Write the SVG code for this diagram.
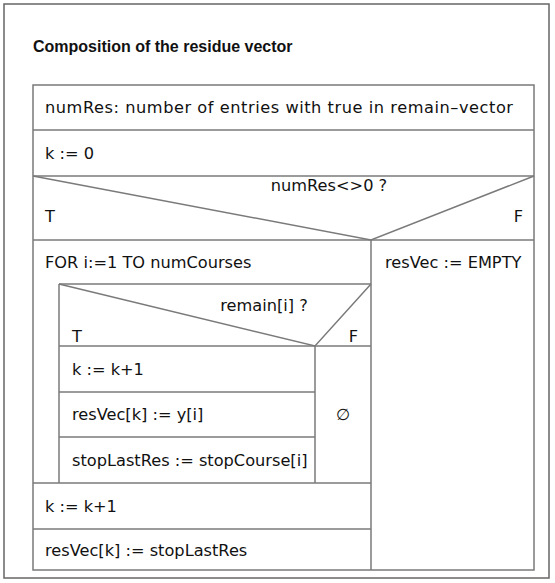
<svg xmlns="http://www.w3.org/2000/svg" width="555" height="583" viewBox="0 0 555 583">
  <style>
    .frame { fill: none; stroke: #666666; stroke-width: 1.5; }
    .ln { fill: none; stroke: #7a7a7a; stroke-width: 1.5; }
    .t { font-family: "DejaVu Sans", "Liberation Sans", sans-serif; font-size: 16.2px; fill: #111; }
    .title { font-family: "Liberation Sans", "DejaVu Sans", sans-serif; font-size: 16px; font-weight: bold; fill: #111; }
    .mid { text-anchor: middle; }
    .end { text-anchor: end; }
  </style>
  <rect width="555" height="583" fill="#ffffff"/>

  <!-- outer frame -->
  <rect class="frame" x="4" y="4" width="545" height="574"/>

  <text class="title" x="33" y="52">Composition of the residue vector</text>

  <!-- structogram outline and cell separators -->
  <g id="connectors">
    <rect class="ln" x="33" y="85" width="501" height="485"/>
    <line class="ln" x1="33" y1="130" x2="534" y2="130"/>
    <line class="ln" x1="33" y1="176" x2="534" y2="176"/>
    <line class="ln" x1="33" y1="240" x2="534" y2="240"/>
    <line class="ln" x1="371" y1="240" x2="371" y2="570"/>
    <line class="ln" x1="59" y1="284" x2="371" y2="284"/>
    <line class="ln" x1="59" y1="284" x2="59" y2="483"/>
    <line class="ln" x1="59" y1="346" x2="371" y2="346"/>
    <line class="ln" x1="315" y1="346" x2="315" y2="483"/>
    <line class="ln" x1="59" y1="392" x2="315" y2="392"/>
    <line class="ln" x1="59" y1="437" x2="315" y2="437"/>
    <line class="ln" x1="33" y1="483" x2="371" y2="483"/>
    <line class="ln" x1="33" y1="529" x2="371" y2="529"/>
  </g>

  <g id="count">
    <text class="t" x="45" y="113" textLength="468" lengthAdjust="spacing">numRes: number of entries with true in remain–vector</text>
  </g>
  <g id="init-k">
    <text class="t" x="45" y="159">k := 0</text>
  </g>
  <g id="branch-numres">
    <polyline class="ln" points="33,176 371,240 534,176"/>
    <text class="t mid" x="329" y="191">numRes&lt;&gt;0 ?</text>
    <text class="t" x="45" y="222">T</text>
    <text class="t end" x="523" y="222">F</text>
  </g>
  <g id="loop-courses">
    <text class="t" x="45" y="268">FOR i:=1 TO numCourses</text>
  </g>
  <g id="empty-result">
    <text class="t" x="385" y="268">resVec := EMPTY</text>
  </g>
  <g id="branch-remain">
    <polyline class="ln" points="59,284 315,346 371,284"/>
    <text class="t mid" x="264" y="311">remain[i] ?</text>
    <text class="t" x="72" y="342">T</text>
    <text class="t end" x="358" y="342">F</text>
  </g>
  <g id="inc-k-inner">
    <text class="t" x="72" y="375">k := k+1</text>
  </g>
  <g id="store-y">
    <text class="t" x="72" y="420">resVec[k] := y[i]</text>
  </g>
  <g id="store-stop">
    <text class="t" x="72" y="466">stopLastRes := stopCourse[i]</text>
  </g>
  <g id="no-op">
    <text class="t mid" x="343" y="420">∅</text>
  </g>
  <g id="inc-k-outer">
    <text class="t" x="45" y="512">k := k+1</text>
  </g>
  <g id="store-last">
    <text class="t" x="45" y="556">resVec[k] := stopLastRes</text>
  </g>
</svg>
